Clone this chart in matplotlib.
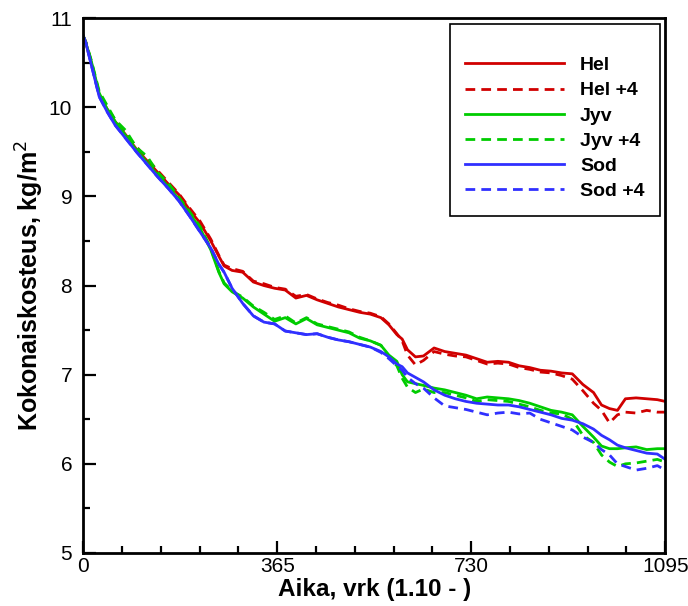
import numpy as np
import matplotlib
matplotlib.use('Agg')
import matplotlib.pyplot as plt
from matplotlib.ticker import MultipleLocator

plt.rcParams['font.family'] = ['Liberation Sans', 'DejaVu Sans']

# aika, vrk
paiva = [0, 5, 15, 30, 45, 60, 80, 100, 120, 140, 160, 180, 200, 220, 240, 255, 265,
         280, 300, 320, 340, 360, 380, 400, 420, 440, 460, 480, 500, 520, 540, 560,
         575, 590, 600, 610, 625, 640, 660, 680, 700, 720, 740, 760, 780, 800, 820,
         840, 860, 880, 900, 920, 940, 960, 975, 990, 1005, 1020, 1040, 1060, 1080, 1095]

hel = [10.80, 10.72, 10.50, 10.14, 9.98, 9.84, 9.69, 9.53, 9.40, 9.27, 9.14, 9.02, 8.85,
       8.70, 8.50, 8.33, 8.22, 8.17, 8.15, 8.04, 8.00, 7.97, 7.95, 7.86, 7.89, 7.84, 7.80,
       7.76, 7.73, 7.70, 7.68, 7.64, 7.56, 7.45, 7.40, 7.28, 7.20, 7.21, 7.30, 7.26, 7.24,
       7.22, 7.18, 7.14, 7.15, 7.14, 7.10, 7.08, 7.05, 7.04, 7.02, 7.01, 6.89, 6.80, 6.66,
       6.62, 6.60, 6.73, 6.74, 6.73, 6.72, 6.70]
hel4 = [10.80, 10.73, 10.51, 10.15, 9.99, 9.86, 9.70, 9.56, 9.42, 9.29, 9.16, 9.03, 8.87,
        8.72, 8.52, 8.34, 8.23, 8.19, 8.16, 8.05, 8.02, 7.98, 7.96, 7.88, 7.90, 7.85, 7.81,
        7.78, 7.74, 7.71, 7.69, 7.65, 7.57, 7.46, 7.38, 7.22, 7.11, 7.16, 7.26, 7.23, 7.21,
        7.20, 7.16, 7.12, 7.13, 7.12, 7.08, 7.06, 7.03, 7.02, 6.99, 6.95, 6.82, 6.68, 6.60,
        6.46, 6.55, 6.58, 6.57, 6.60, 6.58, 6.58]
jyv = [10.80, 10.72, 10.52, 10.16, 9.98, 9.84, 9.68, 9.52, 9.38, 9.24, 9.11, 8.97, 8.81,
       8.64, 8.40, 8.15, 8.02, 7.93, 7.86, 7.76, 7.68, 7.60, 7.64, 7.57, 7.63, 7.56, 7.53,
       7.50, 7.47, 7.41, 7.38, 7.33, 7.22, 7.15, 7.00, 6.92, 6.90, 6.88, 6.85, 6.83, 6.80,
       6.77, 6.73, 6.75, 6.74, 6.73, 6.71, 6.68, 6.64, 6.60, 6.58, 6.55, 6.42, 6.30, 6.20,
       6.17, 6.17, 6.18, 6.19, 6.16, 6.17, 6.17]
jyv4 = [10.80, 10.73, 10.53, 10.18, 10.02, 9.86, 9.74, 9.55, 9.45, 9.27, 9.15, 8.99, 8.83,
        8.66, 8.42, 8.16, 8.03, 7.94, 7.87, 7.77, 7.70, 7.62, 7.66, 7.58, 7.64, 7.57, 7.54,
        7.51, 7.48, 7.42, 7.38, 7.33, 7.20, 7.10, 6.96, 6.86, 6.80, 6.84, 6.80, 6.80, 6.77,
        6.74, 6.70, 6.72, 6.71, 6.70, 6.67, 6.64, 6.60, 6.57, 6.56, 6.50, 6.32, 6.24, 6.10,
        6.02, 5.97, 6.00, 6.01, 6.03, 6.05, 6.02]
sod = [10.80, 10.72, 10.48, 10.12, 9.95, 9.80, 9.65, 9.50, 9.36, 9.22, 9.09, 8.95, 8.78,
       8.60, 8.42, 8.24, 8.15, 7.97, 7.80, 7.66, 7.59, 7.57, 7.49, 7.47, 7.45, 7.46, 7.42,
       7.39, 7.37, 7.34, 7.31, 7.26, 7.20, 7.12, 7.09, 7.02, 6.97, 6.92, 6.83, 6.77, 6.73,
       6.70, 6.68, 6.67, 6.66, 6.66, 6.64, 6.61, 6.58, 6.55, 6.51, 6.49, 6.45, 6.39, 6.32,
       6.27, 6.21, 6.18, 6.15, 6.12, 6.11, 6.05]
sod4 = [10.80, 10.72, 10.48, 10.12, 9.95, 9.80, 9.65, 9.50, 9.36, 9.22, 9.09, 8.95, 8.78,
        8.60, 8.42, 8.24, 8.15, 7.97, 7.80, 7.66, 7.59, 7.57, 7.49, 7.47, 7.45, 7.46, 7.42,
        7.39, 7.37, 7.34, 7.31, 7.25, 7.18, 7.10, 7.05, 6.97, 6.90, 6.85, 6.74, 6.65, 6.63,
        6.61, 6.58, 6.55, 6.57, 6.58, 6.56, 6.57, 6.50, 6.46, 6.42, 6.38, 6.30, 6.24, 6.16,
        6.10, 6.00, 5.97, 5.93, 5.95, 5.98, 5.93]

punainen = '#d00000'
vihrea = '#00cc00'
sininen = '#3030ff'
viiva = (3.5, 2.2)

fig = plt.figure(figsize=(6.88, 6.06), dpi=100)
ax = fig.add_axes([0.121, 0.0875, 0.846, 0.8825])

ax.plot(paiva, hel, c=punainen, lw=2, label='Hel')
ax.plot(paiva, hel4, c=punainen, lw=2, dashes=viiva, label='Hel +4')
ax.plot(paiva, jyv, c=vihrea, lw=2, label='Jyv')
ax.plot(paiva, jyv4, c=vihrea, lw=2, dashes=viiva, label='Jyv +4')
ax.plot(paiva, sod, c=sininen, lw=2, label='Sod')
ax.plot(paiva, sod4, c=sininen, lw=2, dashes=viiva, label='Sod +4')

ax.set_xlim(0, 1095)
ax.set_ylim(5, 11)
ax.set_xticks([0, 365, 730, 1095])
ax.xaxis.set_minor_locator(MultipleLocator(73))
ax.yaxis.set_major_locator(MultipleLocator(1))
ax.yaxis.set_minor_locator(MultipleLocator(0.5))
ax.tick_params(which='both', direction='in', top=False, right=False, width=1.6, labelsize=15)
ax.tick_params(which='major', length=9)
ax.tick_params(which='minor', length=5)
ax.tick_params(axis='y', pad=8)
ax.tick_params(axis='x', pad=3)
for s in ax.spines.values():
    s.set_linewidth(2)

ax.set_xlabel('Aika, vrk (1.10 - )', fontsize=17.5, fontweight='bold', labelpad=1)
ax.set_ylabel('Kokonaiskosteus, kg/m$^2$', fontsize=18, fontweight='bold', labelpad=2)

leg = ax.legend(loc='upper right', bbox_to_anchor=(0.991, 0.99), borderaxespad=0,
                fancybox=False, edgecolor='black', framealpha=1, handlelength=5.1,
                borderpad=0.8, labelspacing=0.39, handletextpad=0.8,
                prop={'weight': 'bold', 'size': 14}, title=' ', title_fontsize=7)
leg.get_frame().set_linewidth(1.2)

fig.savefig('out.png', dpi=100)
